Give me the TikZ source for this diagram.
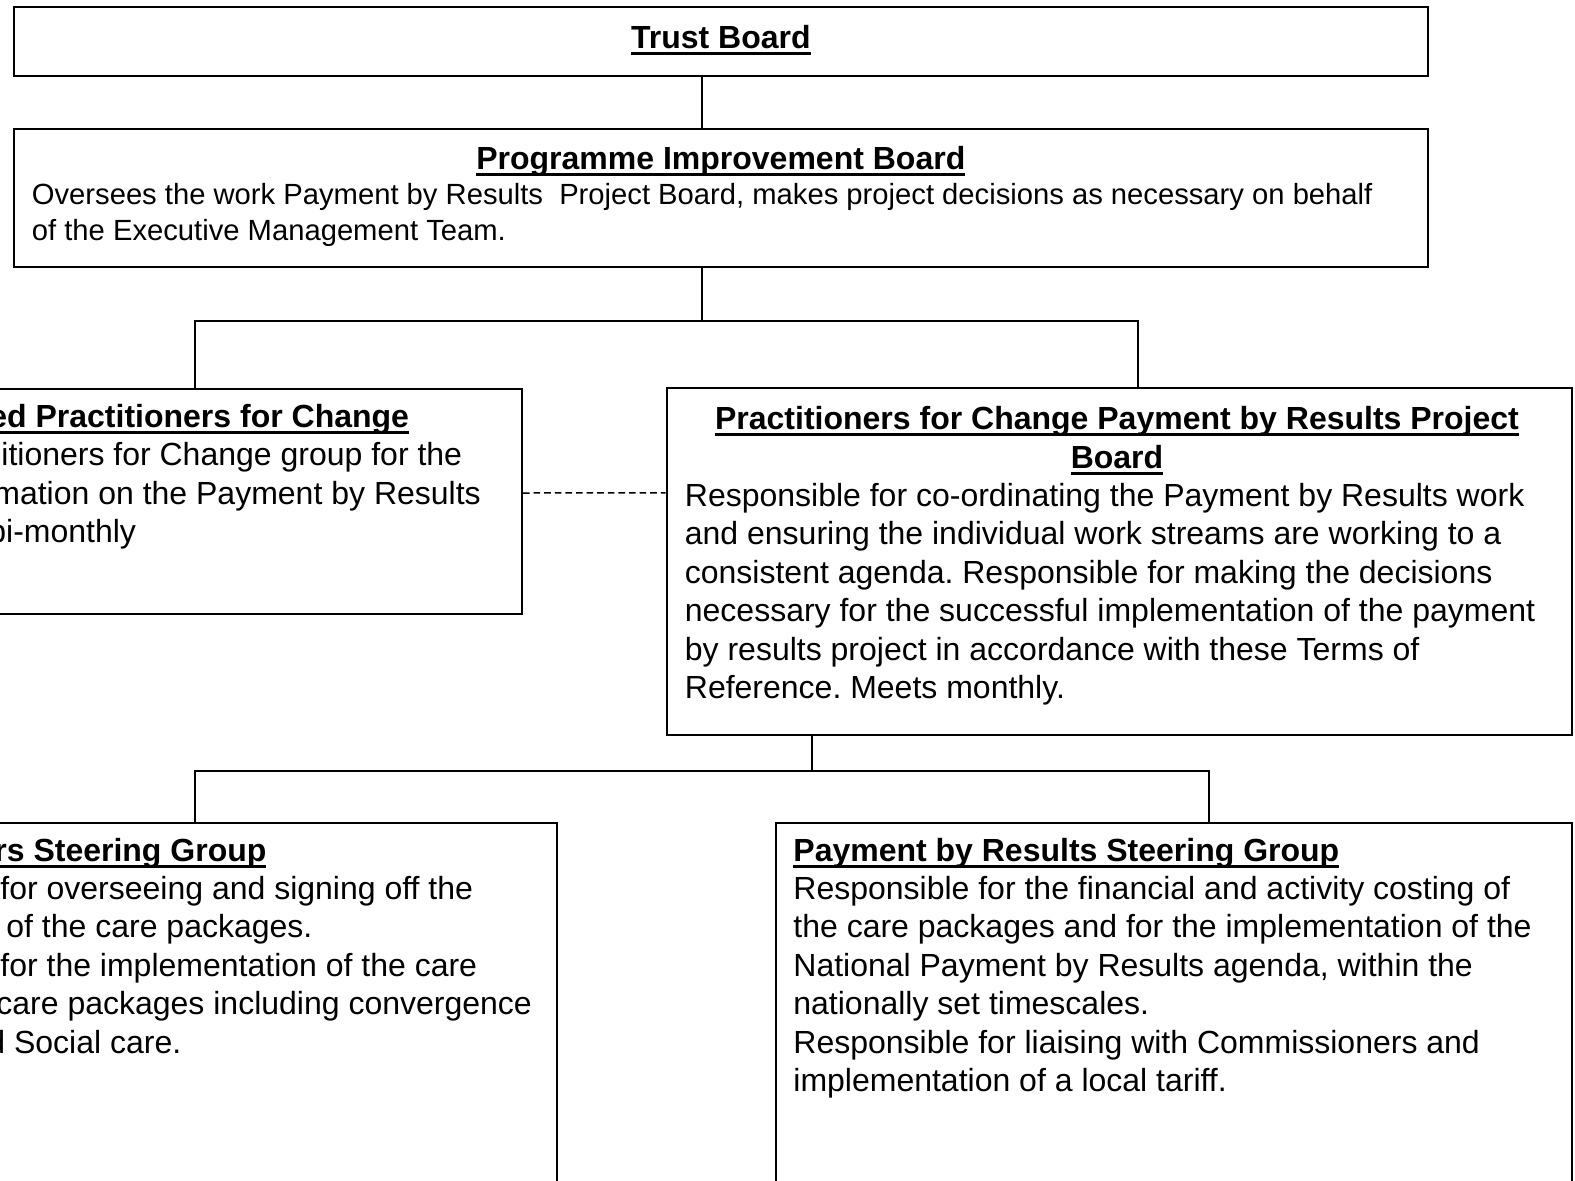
\documentclass[tikz,border=0pt]{standalone}
\usepackage{fontspec}
\setmainfont{Liberation Sans}
\usetikzlibrary{calc}
\frenchspacing
\newsavebox{\ulbox}
\newcommand{\ulb}[1]{\sbox{\ulbox}{#1}\rlap{\rule[-3.25pt]{\wd\ulbox}{1.5pt}}\usebox{\ulbox}}

\begin{document}
\begin{tikzpicture}[x=0.5pt, y=-0.5pt,
	box/.style={draw, line width=1pt, inner sep=0pt, anchor=north west},
	ttl/.style={font=\fontsize{16}{19.2}\selectfont\bfseries, align=center, inner sep=0pt, anchor=base},
	txt/.style={font=\fontsize{16}{19.2}\selectfont, align=left, inner sep=0pt, anchor=base west},
	lnk/.style={line width=1pt}]
		\useasboundingbox (0,0) rectangle (1575,1180);
		\node[box, minimum width=706.85pt, minimum height=34.5pt] (tb) at (13,6) {};
		\node[box, minimum width=706.85pt, minimum height=69.25pt] (pib) at (13,127.5) {};
		\node[box, minimum width=327pt, minimum height=112.5pt] (lpc) at (-133,387.5) {};
		\node[box, minimum width=452.65pt, minimum height=173.5pt] (prj) at (665.7,387.3) {};
		\node[box, minimum width=362pt, minimum height=214pt] (lsg) at (-168,821.5) {};
		\node[box, minimum width=398.25pt, minimum height=214pt] (psg) at (774.5,821.5) {};
% texts, placed at the baseline of their last line
		\node[ttl] (tbt) at ($(tb.north)+(0,42)$) {\ulb{Trust Board}};
		\node[ttl] (pibt) at ($(pib.north)+(0,41.5)$) {\ulb{Programme Improvement Board}};
		\node[txt, font=\fontsize{14.6}{18}\selectfont] (pibx) at (31.5,240.5) {Oversees the work Payment by Results\ \ Project Board, makes project decisions as necessary on behalf\\of the Executive Management Team.};
		\node[txt] (lpcx) at (0,542.7) {\hspace*{-5.5pt}\textbf{\ulb{ed Practitioners for Change}}\\\hspace*{0.5pt}itioners for Change group for the\\\hspace*{-3.5pt}mation on the Payment by Results\\\hspace*{-6pt}bi-monthly};
		\node[ttl] (prjt) at (1117,468) {\ulb{Practitioners for Change Payment by Results Project}\\\ulb{Board}};
		\node[txt] (prjx) at (684.5,698.5) {Responsible for co-ordinating the Payment by Results work\\and ensuring the individual work streams are working to a\\consistent agenda. Responsible for making the decisions\\necessary for the successful implementation of the payment\\by results project in accordance with these Terms of\\Reference. Meets monthly.};
		\node[txt] (lsgx) at (0,1053) {\hspace*{-3pt}\textbf{\ulb{rs Steering Group}}\\for overseeing and signing off the\\\hspace*{3pt}of the care packages.\\for the implementation of the care\\\hspace*{-2pt}care packages including convergence\\\hspace*{-6.5pt}d Social care.};
		\node[txt] (psgx) at (793,1091.4) {\textbf{\ulb{Payment by Results Steering Group}}\\Responsible for the financial and activity costing of\\the care packages and for the implementation of the\\National Payment by Results agenda, within the\\nationally set timescales.\\Responsible for liaising with Commissioners and\\implementation of a local tariff.};
%
		\draw[lnk] ($(tb.south)+(-18.5,0)$) -- ($(pib.north)+(-18.5,0)$);
		\draw[lnk] ($(pib.south)+(-18.5,0)$) -- ++(0,53) -| (lpc.north);
		\draw[lnk] ($(pib.south)+(-18.5,53)$) -| ($(prj.north)+(18.5,0)$);
		\draw[lnk] ($(prj.south)+(-307.5,0)$) -- ++(0,34.5) -| (lsg.north);
		\draw[lnk] ($(prj.south)+(-307.5,34.5)$) -| ($(psg.north)+(35.5,0)$);
		\draw[line width=0.75pt, dash pattern=on 3.3pt off 2pt] ($(lpc.east)+(0,-8)$) -- ($(prj.west)+(0,-69)$);
	\end{tikzpicture}
\end{document}
